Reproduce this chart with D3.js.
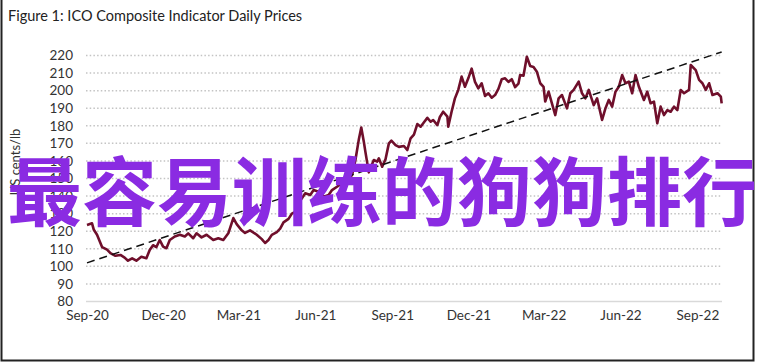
<!DOCTYPE html>
<html>
<head>
<meta charset="utf-8">
<script src="https://cdn.jsdelivr.net/npm/d3@7"></script>
<style>
  body { margin: 0; background: #fff; }
  svg { display: block; }
  text { font-family: Lato, "Open Sans", sans-serif; fill: #333; }
</style>
</head>
<body>
<div id="chart"></div>
<script>
// dades llegides del gràfic (preu diari aprox.)
let dates = ['2020-09-01','2020-09-07','2020-09-09','2020-09-13','2020-09-19','2020-09-25','2020-09-29',
  '2020-10-05','2020-10-11','2020-10-16','2020-10-20','2020-10-25','2020-10-30','2020-11-05','2020-11-11',
  '2020-11-15','2020-11-19','2020-11-23','2020-11-27','2020-12-01','2020-12-05','2020-12-09','2020-12-15',
  '2020-12-21','2020-12-27','2020-12-31','2021-01-06','2021-01-10','2021-01-16','2021-01-22','2021-01-30',
  '2021-02-05','2021-02-11','2021-02-17','2021-02-23','2021-02-27','2021-03-05','2021-03-09','2021-03-15',
  '2021-03-23','2021-03-29','2021-04-02','2021-04-06','2021-04-10','2021-04-16','2021-04-20','2021-04-24',
  '2021-04-30','2021-05-04','2021-05-08','2021-05-12','2021-05-16','2021-05-20','2021-05-26','2021-05-30',
  '2021-06-05','2021-06-11','2021-06-17','2021-06-21','2021-06-27','2021-07-03','2021-07-09','2021-07-15',
  '2021-07-19','2021-07-23','2021-07-26','2021-07-29','2021-07-31','2021-08-04','2021-08-10','2021-08-14',
  '2021-08-16','2021-08-20','2021-08-24','2021-08-28','2021-08-31','2021-09-05','2021-09-09','2021-09-15',
  '2021-09-19','2021-09-23','2021-09-27','2021-10-01','2021-10-05','2021-10-09','2021-10-13','2021-10-17',
  '2021-10-20','2021-10-25','2021-10-28','2021-11-01','2021-11-06','2021-11-07','2021-11-11','2021-11-15',
  '2021-11-19','2021-11-23','2021-11-27','2021-12-01','2021-12-05','2021-12-09','2021-12-13','2021-12-17',
  '2021-12-21','2021-12-25','2021-12-29','2022-01-02','2022-01-06','2022-01-10','2022-01-14','2022-01-18',
  '2022-01-22','2022-01-26','2022-01-30','2022-02-01','2022-02-05','2022-02-09','2022-02-13','2022-02-17',
  '2022-02-21','2022-02-25','2022-03-01','2022-03-03','2022-03-07','2022-03-11','2022-03-15','2022-03-19',
  '2022-03-23','2022-03-29','2022-04-02','2022-04-06','2022-04-12','2022-04-16','2022-04-20','2022-04-24',
  '2022-04-30','2022-05-04','2022-05-10','2022-05-14','2022-05-18','2022-05-22','2022-05-26','2022-05-30',
  '2022-06-03','2022-06-07','2022-06-11','2022-06-15','2022-06-19','2022-06-23','2022-06-29','2022-07-03',
  '2022-07-07','2022-07-11','2022-07-15','2022-07-19','2022-07-23','2022-07-27','2022-07-31','2022-08-04',
  '2022-08-08','2022-08-12','2022-08-16','2022-08-22','2022-08-24','2022-08-30','2022-09-03','2022-09-07',
  '2022-09-11','2022-09-15','2022-09-19','2022-09-25','2022-09-29','2022-09-30']
let preus = [123.5,124.5,121,118,111,109.5,107.5,
  106,106.5,105,103.2,104.6,103.2,105.5,104.6,
  109.3,112,111,115,111.2,110.3,115,117,
  118,117,118.8,116,118.8,116.5,118,115,
  116,115,118.8,127.5,124,120.5,119,120.5,
  118,115.5,113.3,115,117.9,119.5,121.5,125,
  127,130,131,136,138.7,141.6,140.6,143.4,
  142.5,139.6,140.6,143.4,145.3,147.3,149.1,152,
  160.5,172,179,171,165,153.5,160.5,159.6,
  161.5,156.7,161,170,171.5,169,168,168.5,
  166.2,172.9,175,181,179.5,182,184.5,182.3,
  183.3,180.4,185,188,185.2,179.5,188,195.6,
  200.4,208,202.2,207,212.5,205,201.3,204.2,
  197,198.5,196,197.5,201,206.5,207,205,
  206.5,202,204,208.9,208.5,219.3,214,213.5,
  210.8,204.2,202.2,193.8,199.4,192.8,186.1,195.6,
  197.5,189.9,198.5,200.4,205.1,198.5,195.6,200.4,
  191.8,195.6,183.3,189.9,194.7,190.9,199.4,202.2,
  208.9,204.2,205.1,198.5,208.9,202.2,194.7,199.4,
  192.8,193.8,181.4,190.9,186.1,188.9,188,190.9,
  188.9,200.4,198.5,200.4,214.6,211.7,206.1,204.2,
  200.4,204.2,197.5,198.5,196.6,192.8]
// línia de tendència (extrems)
let tendDates = ['2020-09-01', '2022-09-30']
let tendValors = [102, 222]
// eixos
let ticksY = [80, 90, 100, 110, 120, 130, 140, 150, 160, 170, 180, 190, 200, 210, 220]
let ticksX = ['2020-09-01','2020-12-01','2021-03-01','2021-06-01','2021-09-01',
  '2021-12-01','2022-03-01','2022-06-01','2022-09-01']
let titol = 'Figure 1: ICO Composite Indicator Daily Prices'
let titolY = 'US cents/lb'
let marca = '最容易训练的狗狗排行'

let ample = 758
let alt = 363
let parse = d3.timeParse('%Y-%m-%d')

let svg = d3.select('#chart')
  .append('svg')
  .attr('width', ample)
  .attr('height', alt)

let x = d3.scaleTime()
  .domain([parse('2020-09-01'), parse('2022-10-01')])
  .range([87, 722.5])
let y = d3.scaleLinear()
  .domain([80, 220])
  .range([301.5, 55.5])

// marc
svg.append('path')
  .attr('d', 'M1.5,0 V360.5 H753.5 V0')
  .attr('fill', 'none')
  .attr('stroke', '#222')
  .attr('stroke-width', 2)

// títol
svg.append('text')
  .attr('x', 8)
  .attr('y', 21)
  .style('font-size', '14.5px')
  .style('fill', '#222')
  .text(titol)

// graella
svg.selectAll('.grid')
  .data(ticksY)
  .enter()
  .append('line')
  .attr('x1', 86)
  .attr('x2', 722)
  .attr('y1', d => y(d))
  .attr('y2', d => y(d))
  .attr('stroke', d => d === 80 ? '#d9d9d9' : '#c4c4c4')
  .attr('stroke-width', 1.5)
  .attr('stroke-dasharray', d => d === 80 ? null : '1.5,2.2')

// eix Y
let eixY = svg.append('g')
  .attr('transform', 'translate(80,0)')
  .call(d3.axisLeft(y).tickValues(ticksY).tickSize(0).tickPadding(7))
eixY.select('.domain').remove()
eixY.selectAll('text')
  .style('font-size', '13.5px')
  .style('font-family', 'Lato, sans-serif')
  .attr('fill', '#333')

// eix X
let eixX = svg.append('g')
  .attr('transform', 'translate(0,301.5)')
  .call(d3.axisBottom(x)
    .tickValues(ticksX.map(parse))
    .tickFormat(d3.timeFormat('%b-%y'))
    .tickSize(0)
    .tickPadding(9))
eixX.select('.domain').remove()
eixX.selectAll('text')
  .style('font-size', '13.5px')
  .style('font-family', 'Lato, sans-serif')
  .attr('fill', '#333')

// títol eix Y
svg.append('text')
  .attr('transform', 'translate(20,162) rotate(-90)')
  .attr('text-anchor', 'middle')
  .style('font-size', '13px')
  .style('fill', '#333')
  .text(titolY)

// sèrie de preus
let serie = dates.map((d, i) => ({ data: parse(d), valor: preus[i] }))
svg.append('path')
  .datum(serie)
  .attr('fill', 'none')
  .attr('stroke', '#6f0f2b')
  .attr('stroke-width', 2.6)
  .attr('stroke-linejoin', 'round')
  .attr('d', d3.line().x(d => x(d.data)).y(d => y(d.valor)))

// tendència
let tend = tendDates.map((d, i) => ({ data: parse(d), valor: tendValors[i] }))
svg.append('path')
  .datum(tend)
  .attr('fill', 'none')
  .attr('stroke', '#111')
  .attr('stroke-width', 1.5)
  .attr('stroke-dasharray', '8,5')
  .attr('d', d3.line().x(d => x(d.data)).y(d => y(d.valor)))

// marca d'aigua
svg.append('text')
  .attr('x', 7)
  .attr('y', 220)
  .style('font-family', '"Noto Sans CJK SC", sans-serif')
  .style('font-weight', 'bold')
  .style('font-size', '75px')
  .style('fill', '#8a2be2')
  .text(marca)
</script>
</body>
</html>
